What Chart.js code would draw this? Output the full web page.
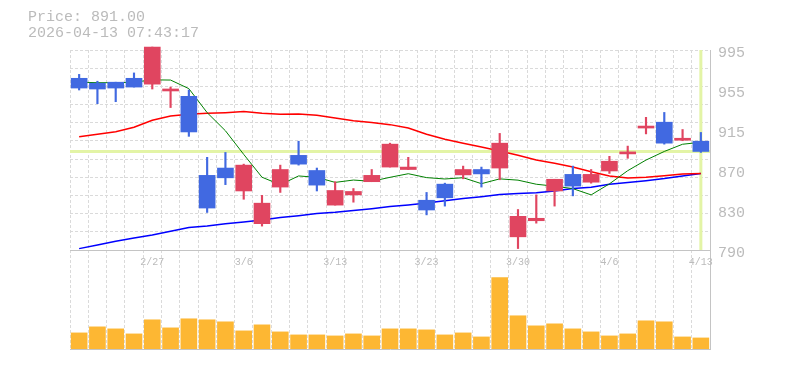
<!DOCTYPE html>
<html>
<head>
<meta charset="utf-8">
<script src="https://cdn.jsdelivr.net/npm/chart.js@4.4.1/dist/chart.umd.min.js"></script>
<style>
  html, body { margin: 0; padding: 0; background: #fff; }
  #wrap { position: relative; width: 785px; height: 370px; overflow: hidden; }
  #wrap canvas { position: absolute; left: 0; top: 0; }
  #info {
    position: absolute; left: 28px; top: 10px; z-index: 3;
    font: 15px "Liberation Mono", monospace; line-height: 15.6px;
    color: #bbb; white-space: pre;
  }
</style>
</head>
<body>
<div id="wrap">
  <canvas id="volumeChart" width="785" height="370"></canvas>
  <canvas id="priceChart" width="785" height="370"></canvas>
  <div id="info"></div>
</div>
<script>
const currentPrice = 891;
const timestamp = "2026-04-13 07:43:17";

const dates = [
  "2/20", "2/24", "2/25", "2/26", "2/27", "3/2", "3/3", "3/4", "3/5", "3/6",
  "3/9", "3/10", "3/11", "3/12", "3/13", "3/16", "3/17", "3/18", "3/19", "3/23",
  "3/24", "3/25", "3/26", "3/27", "3/30", "3/31", "4/1", "4/2", "4/3", "4/6",
  "4/7", "4/8", "4/9", "4/10", "4/13",
];

const openPrices = [
  966, 961, 962, 966, 960, 953, 947.5, 866.5, 874, 850.5,
  817, 854.5, 887, 871.5, 836, 846.5, 860, 875, 872.5, 841,
  857.5, 867, 872.5, 874, 803.5, 820, 850.5, 867.5, 859.5, 871,
  888.5, 915, 921, 902.5, 901.5,
];
const highPrices = [
  970, 963, 962, 971.5, 998, 957, 954, 885, 890, 878,
  846, 877, 901.5, 874, 860, 853, 872.5, 899.5, 885, 849,
  858.5, 876, 875, 909.5, 831.5, 846.5, 862.5, 876, 872.5, 886,
  896.5, 926, 931, 913.5, 910.5,
];
const lowPrices = [
  954, 940, 942, 957, 955, 936, 906.5, 828.5, 857, 842,
  814.5, 849, 877, 850.5, 836, 839, 860, 875, 872.5, 826,
  835, 863, 854.5, 862, 791.5, 817.5, 835, 845.5, 858.5, 868.5,
  884, 909, 898.5, 902, 890,
];
const closePrices = [
  956, 955, 956, 957, 998, 955, 911, 833, 864, 877,
  838, 872.5, 878, 856.5, 851, 850, 866.5, 898.5, 875, 831,
  843.5, 872.5, 868, 899.5, 824.5, 822.5, 862.5, 855.5, 867.5, 881,
  890, 917, 899.5, 904.5, 891,
];

const ma5 = [
  962, 961.5, 961.5, 962, 964.4, 964.2, 955.4, 930.8, 912.2, 888,
  864.6, 856.9, 865.9, 864.5, 859.3, 861.7, 860.4, 864.5, 868.2, 864.2,
  862.8, 864.1, 858, 862.9, 861.6, 857.4, 855.4, 852.9, 846.5, 857.8,
  871.3, 882.2, 891, 898.4, 900.4,
];
const ma25 = [
  906.2, 908.6, 911.3, 915.8, 923, 927.4, 929.1, 930.1, 930.8, 931.9,
  930.1, 929.1, 929.5, 928.1, 925.4, 922.6, 920.6, 918.5, 915.1, 908.6,
  903.5, 899.4, 895.6, 891.5, 887.1, 882.3, 878.9, 875.1, 870.3, 865.9,
  863.9, 864.5, 866.2, 868, 868.5,
];
const ma75 = [
  791.4, 795.2, 798.9, 802.3, 805.4, 809.2, 813, 814.6, 817, 818.7,
  820.8, 823.2, 825.2, 827.3, 828.6, 830.4, 832.4, 834.5, 836.2, 838.2,
  840.6, 842.7, 844.7, 846.8, 847.8, 848.8, 850.5, 853.1, 854.3, 857.4,
  859.1, 861.1, 863.2, 865.9, 868.3,
];

// volume, thousands of shares
const volumes = [
  48, 66, 60, 45, 87, 63, 90, 87, 81, 54,
  72, 51, 42, 42, 39, 45, 39, 60, 60, 57,
  42, 48, 36, 213, 99, 69, 75, 60, 51, 39,
  45, 84, 81, 36, 33,
];

const priceTickValues = [790, 831, 872, 913, 954, 995];
const priceTickLabels = ["790", "830", "870", "915", "955", "995"];

const upColor = "#e04560";
const downColor = "#4169e1";
const gridColor = "#dadada";
const axisColor = "#c4c4c4";
const textColor = "#bbbbbb";
const markerColor = "#e3f4a6";

document.getElementById("info").textContent =
  "Price: " + currentPrice.toFixed(2) + "\n" + timestamp;

const candleColors = closePrices.map((c, i) => (c >= openPrices[i] ? upColor : downColor));

// current price line + marker on the latest candle
const priceMarker = {
  id: "priceMarker",
  beforeDatasetsDraw(chart) {
    const { ctx, chartArea, scales } = chart;
    const y = scales.y.getPixelForValue(currentPrice);
    const x = scales.x.getPixelForValue(dates.length - 1);
    ctx.save();
    ctx.strokeStyle = markerColor;
    ctx.lineWidth = 3;
    ctx.beginPath();
    ctx.moveTo(chartArea.left, y);
    ctx.lineTo(chartArea.right, y);
    ctx.moveTo(x, chartArea.top);
    ctx.lineTo(x, chartArea.bottom);
    ctx.stroke();
    ctx.restore();
  },
};

new Chart(document.getElementById("priceChart"), {
  type: "bar",
  data: {
    labels: dates,
    datasets: [
      { type: "line", label: "MA5", data: ma5, borderColor: "#008000", borderWidth: 1, pointRadius: 0, order: 3 },
      { type: "line", label: "MA25", data: ma25, borderColor: "#ff0000", borderWidth: 1.5, pointRadius: 0, order: 3 },
      { type: "line", label: "MA75", data: ma75, borderColor: "#0000ff", borderWidth: 1.5, pointRadius: 0, order: 3 },
      {
        label: "wick",
        data: dates.map((d, i) => [lowPrices[i], highPrices[i]]),
        backgroundColor: candleColors,
        barThickness: 1.5,
        grouped: false,
        order: 2,
        clip: false,
      },
      {
        label: "body",
        data: dates.map((d, i) => [openPrices[i], closePrices[i]]),
        backgroundColor: candleColors,
        barThickness: 16,
        minBarLength: 2,
        grouped: false,
        order: 1,
        clip: false,
      },
    ],
  },
  options: {
    responsive: false,
    animation: false,
    devicePixelRatio: 1,
    layout: { padding: { left: 70, top: 50, right: 0, bottom: 100 } },
    plugins: { legend: { display: false }, tooltip: { enabled: false } },
    scales: {
      x: {
        type: "category",
        offset: true,
        grid: { offset: true, color: gridColor, drawTicks: false },
        border: { color: axisColor, width: 1, dash: [3, 2] },
        ticks: {
          autoSkip: false,
          maxRotation: 0,
          padding: 6,
          color: textColor,
          font: { family: "Liberation Mono", size: 10 },
          callback: (v, i) => (i % 5 === 4 ? dates[i] : ""),
        },
        afterFit: (s) => { s.height = 20; },
      },
      y: {
        position: "right",
        min: 790,
        max: 995,
        grid: { display: false, drawTicks: false },
        border: { color: axisColor, width: 1 },
        afterBuildTicks: (s) => { s.ticks = priceTickValues.map((v) => ({ value: v })); },
        ticks: {
          padding: 8,
          labelOffset: 3,
          color: textColor,
          font: { family: "Liberation Mono", size: 15 },
          callback: (v) => priceTickLabels[priceTickValues.indexOf(v)],
        },
        afterFit: (s) => { s.width = 75; },
      },
      yg: {
        position: "left",
        min: 0,
        max: 11,
        ticks: { display: false, stepSize: 1 },
        grid: { color: gridColor, drawTicks: false },
        border: { display: false, dash: [3, 2] },
        afterFit: (s) => { s.width = 0; },
      },
    },
  },
  plugins: [priceMarker],
});

new Chart(document.getElementById("volumeChart"), {
  type: "bar",
  data: {
    labels: dates,
    datasets: [
      { label: "Volume", data: volumes, backgroundColor: "#fdb733", barThickness: 16 },
    ],
  },
  options: {
    responsive: false,
    animation: false,
    devicePixelRatio: 1,
    layout: { padding: { left: 70, top: 250, right: 0, bottom: 21 } },
    plugins: { legend: { display: false }, tooltip: { enabled: false } },
    scales: {
      x: {
        offset: true,
        grid: { offset: true, color: gridColor, drawTicks: false },
        border: { color: axisColor, width: 1, dash: [3, 2] },
        ticks: { display: false },
        afterFit: (s) => { s.height = 0; },
      },
      y: {
        position: "right",
        min: 0,
        max: 295,
        grid: { display: false, drawTicks: false },
        border: { color: axisColor, width: 1 },
        ticks: { display: false },
        afterFit: (s) => { s.width = 75; },
      },
    },
  },
});
</script>
</body>
</html>
